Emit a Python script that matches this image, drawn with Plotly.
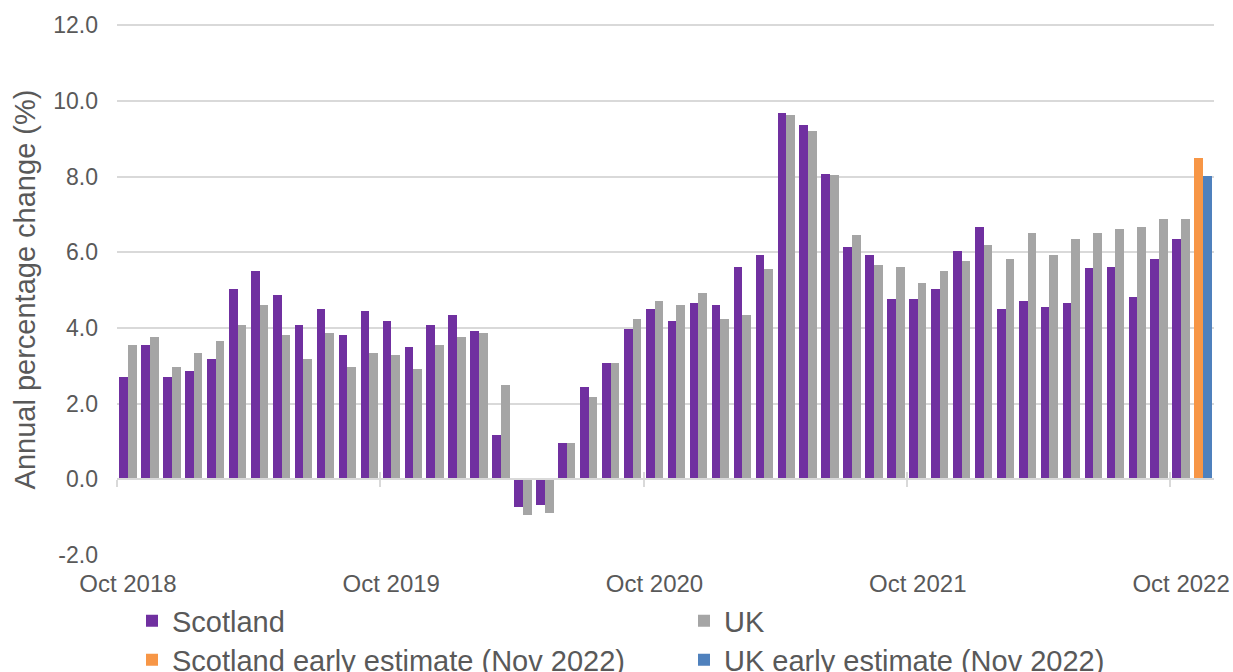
import pandas as pd
import plotly.graph_objects as go

# ---- data -------------------------------------------------------------
months = [p.strftime("%b %Y") for p in pd.period_range("2018-10", "2022-10", freq="M")]
estimate_month = ["Nov 2022"]

scotland = [2.70, 3.55, 2.70, 2.86, 3.18, 5.03, 5.50, 4.87, 4.07, 4.50, 3.81, 4.44,
            4.18, 3.50, 4.07, 4.34, 3.91, 1.17, -0.73, -0.68, 0.96, 2.43, 3.07, 3.96,
            4.50, 4.18, 4.65, 4.60, 5.60, 5.92, 9.67, 9.35, 8.08, 6.13, 5.92, 4.76,
            4.76, 5.04, 6.04, 6.67, 4.50, 4.72, 4.56, 4.66, 5.57, 5.62, 4.82, 5.83,
            6.35]
uk = [3.55, 3.75, 2.96, 3.34, 3.65, 4.07, 4.60, 3.81, 3.18, 3.86, 2.96, 3.34,
      3.28, 2.91, 3.55, 3.75, 3.86, 2.49, -0.94, -0.88, 0.96, 2.17, 3.07, 4.23,
      4.71, 4.60, 4.92, 4.23, 4.34, 5.55, 9.62, 9.19, 8.04, 6.45, 5.65, 5.60,
      5.19, 5.51, 5.78, 6.19, 5.83, 6.51, 5.93, 6.35, 6.51, 6.62, 6.67, 6.88,
      6.88]
scotland_estimate = [8.49]
uk_estimate = [8.01]

tick_labels = ["Oct 2018", "Oct 2019", "Oct 2020", "Oct 2021", "Oct 2022"]
y_ticks = [-2, 0, 2, 4, 6, 8, 10, 12]

# ---- style --------------------------------------------------------------
PURPLE, GREY, ORANGE, BLUE = "#7030A0", "#A5A5A5", "#F79646", "#4F81BD"
TEXT = "#595959"
GRID = "#D9D9D9"
FONT = "Liberation Sans, Arial, sans-serif"
W, H = 1233, 672
BW = 0.395
Y_TOP = y_ticks[-1] + 0.03  # tiny headroom so the top gridline is drawn

all_cats = months + estimate_month
n = len(all_cats)
boundaries = [all_cats.index(t) - 0.5 for t in tick_labels]

fig = go.Figure()
fig.add_trace(go.Bar(name="Scotland", x=months, y=scotland, marker_color=PURPLE,
                     offset=-BW, width=BW, legend="legend"))
fig.add_trace(go.Bar(name="UK", x=months, y=uk, marker_color=GREY,
                     offset=0, width=BW, legend="legend2"))
fig.add_trace(go.Bar(name="Scotland early estimate (Nov 2022)", x=estimate_month,
                     y=scotland_estimate, marker_color=ORANGE, offset=-BW, width=BW,
                     legend="legend3"))
fig.add_trace(go.Bar(name="UK early estimate (Nov 2022)", x=estimate_month,
                     y=uk_estimate, marker_color=BLUE, offset=0, width=BW,
                     legend="legend4"))
for t in fig.data:
    t.marker.line.width = 0

# helper traces so the zero-line axes are drawn
for ax in ("x2", "x3"):
    fig.add_trace(go.Scatter(x=[None], y=[None], xaxis=ax, yaxis="y",
                             showlegend=False, hoverinfo="skip"))

zero_pos = (0 - y_ticks[0]) / (Y_TOP - y_ticks[0])

def legend_box(xpx, ypx):
    return dict(x=xpx / W, y=1 - ypx / H, xref="container", yref="container",
                xanchor="left", yanchor="middle", orientation="h",
                bgcolor="rgba(0,0,0,0)", font=dict(size=29, color=TEXT, family=FONT),
                itemclick=False)

fig.update_layout(
    width=W, height=H,
    barmode="overlay",
    plot_bgcolor="white", paper_bgcolor="white",
    font=dict(family=FONT, color=TEXT),
    margin=dict(l=117, r=19, t=24, b=117, autoexpand=False),
    xaxis=dict(type="category", categoryorder="array", categoryarray=all_cats,
               range=[-0.5, n - 0.5], tickmode="array", tickvals=tick_labels,
               ticktext=tick_labels, showgrid=False, showline=False, ticks="",
               tickfont=dict(size=24, color=TEXT), ticklabelstandoff=12),
    xaxis2=dict(overlaying="x", anchor="free", position=zero_pos, side="bottom",
                range=[-0.5, n - 0.5], tickmode="array", tickvals=boundaries,
                ticks="outside", ticklen=7, tickwidth=1.5, tickcolor=GRID,
                showline=True, linecolor=GRID, linewidth=1.5, showgrid=False,
                showticklabels=False, zeroline=False),
    xaxis3=dict(overlaying="x", anchor="free", position=zero_pos, side="bottom",
                range=[-0.5, n - 0.5], tickmode="array", tickvals=boundaries,
                ticks="inside", ticklen=7, tickwidth=1.5, tickcolor=GRID,
                showline=False, showgrid=False, showticklabels=False, zeroline=False),
    yaxis=dict(range=[y_ticks[0], Y_TOP], tickvals=y_ticks,
               ticktext=[f"{v:.1f}" for v in y_ticks],
               showgrid=True, gridcolor=GRID, gridwidth=1.5, zeroline=False,
               showline=False, ticks="", tickfont=dict(size=23, color=TEXT),
               ticklabelstandoff=18,
               title=dict(text="Annual percentage change (%)",
                          font=dict(size=29, color=TEXT), standoff=9)),
    legend=legend_box(132, 621),
    legend2=legend_box(684, 621),
    legend3=legend_box(132, 660),
    legend4=legend_box(684, 660),
    bargap=0,
)

fig.write_html("out.html",
               config={"displayModeBar": False},
               post_script="document.body.style.margin='0';"
                           "document.body.style.overflow='hidden';")
